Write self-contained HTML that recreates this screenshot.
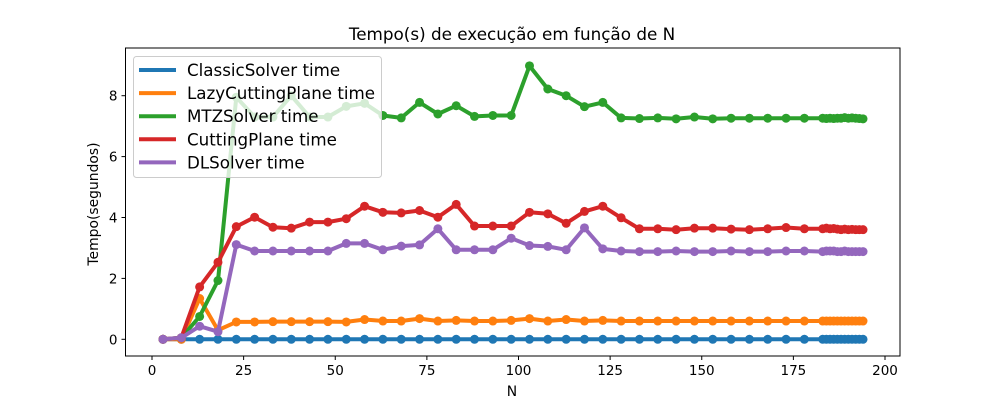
<!DOCTYPE html>
<html><head><meta charset="utf-8"><style>
body{margin:0;background:#fff;}
svg{display:block;font-family:"DejaVu Sans","Liberation Sans",sans-serif;}
</style></head><body>
<svg id="chart" width="1000" height="400" xmlns="http://www.w3.org/2000/svg"></svg>
<script>
const xs=[3,8,13,18,23,28,33,38,43,48,53,58,63,68,73,78,83,88,93,98,103,108,113,118,123,128,133,138,143,148,153,158,163,168,173,178,183,184,185,186,187,188,189,190,191,192,193,194];
const classicVals=[0,0,0,0,0,0,0,0,0,0,0,0,0,0,0,0,0,0,0,0,0,0,0,0,0,0,0,0,0,0,0,0,0,0,0,0,0,0,0,0,0,0,0,0,0,0,0,0];
const lazyVals=[0,0,1.34,0.3,0.57,0.57,0.58,0.58,0.58,0.58,0.57,0.65,0.6,0.6,0.68,0.6,0.62,0.6,0.6,0.62,0.68,0.6,0.65,0.6,0.62,0.6,0.6,0.6,0.6,0.6,0.6,0.6,0.6,0.6,0.6,0.6,0.6,0.6,0.6,0.6,0.6,0.6,0.6,0.6,0.6,0.6,0.6,0.6];
const mtzVals=[0,0.05,0.75,1.93,7.95,7.3,7.3,8.0,7.3,7.3,7.65,7.75,7.35,7.27,7.78,7.4,7.67,7.32,7.35,7.35,8.98,8.22,8.0,7.64,7.78,7.27,7.25,7.27,7.24,7.3,7.24,7.26,7.26,7.26,7.26,7.26,7.26,7.25,7.26,7.25,7.26,7.26,7.28,7.26,7.27,7.26,7.25,7.24];
const cutVals=[0,0.05,1.72,2.53,3.7,4.01,3.68,3.65,3.85,3.85,3.96,4.37,4.17,4.15,4.23,4.01,4.43,3.72,3.72,3.72,4.17,4.12,3.81,4.2,4.37,3.99,3.63,3.63,3.6,3.65,3.65,3.62,3.6,3.63,3.67,3.63,3.63,3.65,3.63,3.64,3.62,3.6,3.62,3.6,3.61,3.6,3.6,3.6];
const dlVals=[0,0.05,0.43,0.25,3.11,2.9,2.9,2.9,2.9,2.9,3.15,3.15,2.94,3.06,3.1,3.63,2.94,2.94,2.94,3.32,3.08,3.05,2.94,3.66,2.97,2.9,2.88,2.88,2.9,2.88,2.88,2.9,2.88,2.88,2.9,2.9,2.88,2.9,2.9,2.9,2.88,2.88,2.9,2.88,2.88,2.88,2.88,2.88];
const seriesNames=["ClassicSolver time","LazyCuttingPlane time","MTZSolver time","CuttingPlane time","DLSolver time"];
const xTicks=[0,25,50,75,100,125,150,175,200];
const yTicks=[0,2,4,6,8];

const colors=["#1f77b4","#ff7f0e","#2ca02c","#d62728","#9467bd"];
const allVals=[classicVals,lazyVals,mtzVals,cutVals,dlVals];
const L=125.5,R=900,T=48,B=356;
const X=v=>152+v*3.665;
const Y=v=>339.3-v*30.45;
const svg=document.getElementById('chart');
const NS="http://www.w3.org/2000/svg";
function mk(tag,attrs,parent){const e=document.createElementNS(NS,tag);for(const k in attrs)e.setAttribute(k,attrs[k]);(parent||svg).appendChild(e);return e;}

const t=mk('text',{x:512,y:40,'text-anchor':'middle','font-size':16.8,fill:'#000'});
t.textContent="Tempo(s) de execução em função de N";



const gs=mk('g',{});


allVals.forEach((vals,si)=>{
  const g=mk('g',{},gs);
  
  
  const pts=vals.map((v,i)=>X(xs[i]).toFixed(1)+','+Y(v).toFixed(1)).join(' ');
  const pl=mk('polyline',{points:pts,fill:'none',stroke:colors[si],'stroke-width':4,'stroke-linejoin':'round'},g);
  
  
  vals.forEach((v,i)=>{
    const c=mk('circle',{cx:X(xs[i]),cy:Y(v),r:4.5,fill:colors[si]},g);
    
    
  });
});

const frame=mk('rect',{x:L,y:T,width:R-L,height:B-T,fill:'none',stroke:'#000','stroke-width':1});



xTicks.forEach(v=>{
  mk('line',{x1:X(v),x2:X(v),y1:B,y2:B+4,stroke:'#000'});
  const tx=mk('text',{x:X(v),y:B+19,'text-anchor':'middle','font-size':13.5,fill:'#000'});
  tx.textContent=v;
  
  
});
yTicks.forEach(v=>{
  mk('line',{x1:L-4,x2:L,y1:Y(v),y2:Y(v),stroke:'#000'});
  const tx=mk('text',{x:L-8,y:Y(v)+5,'text-anchor':'end','font-size':13.5,fill:'#000'});
  tx.textContent=v;
  
  
});
const xl=mk('text',{x:512,y:396,'text-anchor':'middle','font-size':13.9,fill:'#000'});
xl.textContent="N";


const yl=mk('text',{x:98,y:204,'text-anchor':'middle','font-size':13.9,fill:'#000',transform:'rotate(-90 98 204)'});
yl.textContent="Tempo(segundos)";



const lg=mk('g',{});


mk('rect',{x:133.5,y:56.5,width:248,height:121,rx:3,fill:'#fff','fill-opacity':0.8,stroke:'#ccc','stroke-width':1},lg);
seriesNames.forEach((n,i)=>{
  const y=70+i*23.1;
  const ln=mk('line',{x1:139,x2:176,y1:y,y2:y,stroke:colors[i],'stroke-width':4},lg);
  
  
  const tx=mk('text',{x:187,y:y+6,'font-size':16.7,fill:'#000'},lg);
  tx.textContent=n;
  
  
});
</script>
</body></html>
